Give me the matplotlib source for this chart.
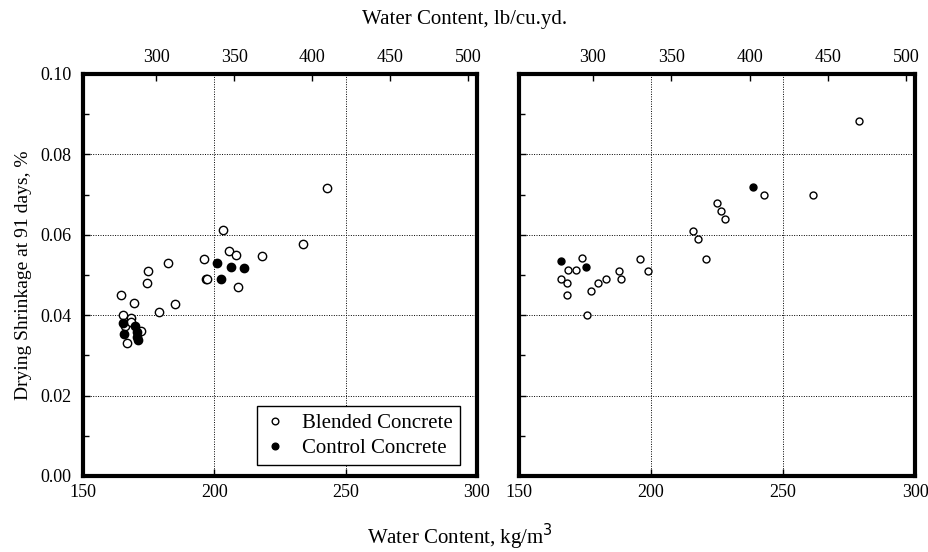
import matplotlib
matplotlib.use('Agg')
import matplotlib.pyplot as plt
from matplotlib.ticker import MultipleLocator

plt.rcParams['font.family'] = ['Liberation Serif', 'DejaVu Serif']

# left panel (kg/m3, % shrinkage)
left_blend_x = [164.5, 169.5, 185.0, 179.1, 165.2, 168.2, 166.0, 172.0, 166.7, 168.2,
                174.8, 174.4, 182.4, 196.1, 196.7, 197.2, 203.3, 205.7, 208.1, 208.9,
                218.2, 233.6, 243.1]
left_blend_y = [0.0450, 0.0430, 0.0429, 0.0409, 0.0401, 0.0393, 0.0374, 0.0360, 0.0331, 0.0382,
                0.0511, 0.0480, 0.0530, 0.0540, 0.0490, 0.0490, 0.0611, 0.0559, 0.0549, 0.0469,
                0.0548, 0.0577, 0.0716]
left_ctrl_x = [201.0, 206.2, 211.3, 202.7, 165.2, 169.8, 165.6, 170.5, 170.5, 171.0]
left_ctrl_y = [0.0530, 0.0519, 0.0518, 0.0489, 0.0380, 0.0372, 0.0353, 0.0357, 0.0345, 0.0339]

# right panel
right_blend_x = [174.0, 168.4, 171.7, 165.8, 168.2, 168.2, 177.3, 179.9, 183.0, 188.0,
                 188.8, 195.7, 199.0, 175.8, 216.0, 217.8, 220.8, 225.1, 226.4, 227.9,
                 242.6, 261.5, 278.8]
right_blend_y = [0.0542, 0.0512, 0.0512, 0.0491, 0.0481, 0.0450, 0.0461, 0.0480, 0.0491, 0.0511,
                 0.0491, 0.0540, 0.0511, 0.0400, 0.0610, 0.0590, 0.0540, 0.0679, 0.0660, 0.0639,
                 0.0699, 0.0698, 0.0884]
right_ctrl_x = [165.8, 175.4, 238.5]
right_ctrl_y = [0.0534, 0.0520, 0.0719]

lb_ticks = [300, 350, 400, 450, 500]
KG_TO_LB = 1.6856

fig = plt.figure(figsize=(9.29, 5.52), dpi=100)
ax1 = fig.add_axes([0.0893, 0.1377, 0.4241, 0.7283])
ax2 = fig.add_axes([0.5587, 0.1377, 0.4263, 0.7283])

panels = [(ax1, left_blend_x, left_blend_y, left_ctrl_x, left_ctrl_y, 6.0),
          (ax2, right_blend_x, right_blend_y, right_ctrl_x, right_ctrl_y, 5.0)]

for ax, bx, by, cx, cy, ms in panels:
    ax.plot(bx, by, 'o', mfc='white', mec='black', mew=1.0, ms=ms,
            label='Blended Concrete', zorder=3)
    ax.plot(cx, cy, 'o', mfc='black', mec='black', ms=ms,
            label='Control Concrete', zorder=4)
    ax.set_xlim(150, 300)
    ax.set_ylim(0, 0.10)
    ax.set_xticks([150, 200, 250, 300])
    ax.set_yticks([0, 0.02, 0.04, 0.06, 0.08, 0.10])
    ax.yaxis.set_minor_locator(MultipleLocator(0.01))
    ax.grid(True, which='major', color='black', linestyle=(0, (1, 1.5)), linewidth=0.7)
    for s in ax.spines.values():
        s.set_linewidth(3)
    ax.tick_params(direction='in', labelsize=13, length=5, width=1, pad=6)
    ax.tick_params(which='minor', direction='in', length=4, width=1)
    ax.tick_params(axis='y', pad=8)

    top = ax.secondary_xaxis('top', functions=(lambda x: x * KG_TO_LB, lambda x: x / KG_TO_LB))
    top.set_xticks(lb_ticks)
    top.tick_params(direction='in', labelsize=13, length=5, width=1, pad=6)

ax1.yaxis.set_major_formatter(plt.FuncFormatter(lambda v, p: '%.2f' % v))
ax2.tick_params(axis='y', labelleft=False)

ax1.set_ylabel('Drying Shrinkage at 91 days, %', fontsize=14, labelpad=6)

leg = ax1.legend(loc='lower right', bbox_to_anchor=(0.957, 0.027), fontsize=15,
                 frameon=True, fancybox=False, edgecolor='black', borderaxespad=0,
                 handlelength=1.0, handletextpad=0.8, borderpad=0.35,
                 labelspacing=0.25, markerscale=0.8, framealpha=1)
leg.get_frame().set_linewidth(1)

fig.text(0.5, 0.965, 'Water Content, lb/cu.yd.', ha='center', va='center', fontsize=15)
fig.text(0.495, 0.028, 'Water Content, kg/m$^3$', ha='center', va='center', fontsize=15)

plt.savefig('out.png', dpi=100)
plt.close()
